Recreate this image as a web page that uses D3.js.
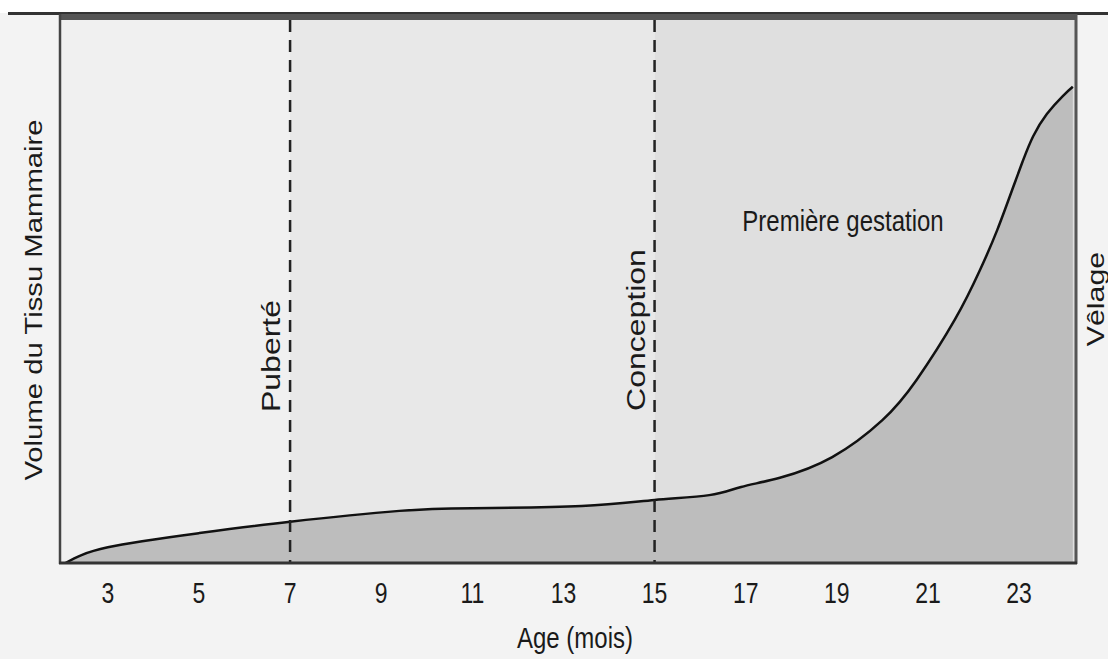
<!DOCTYPE html>
<html>
<head>
<meta charset="utf-8">
<script src="https://cdn.jsdelivr.net/npm/d3@7"></script>
<style>
  body { margin: 0; background: #fff; }
  svg { display: block; }
  text { font-family: "Liberation Sans", Arial, Helvetica, sans-serif; fill: #1a1a1a; }
</style>
</head>
<body>
<svg></svg>
<script>
var width = 1108;
var height = 659;

// age in months and mammary tissue volume (relative units)
var months = [2.07, 3, 5, 7, 9.4, 11, 13.4, 15, 16.2, 16.9, 17.75, 18.9, 20, 20.75, 21.59, 22.14, 22.52, 22.87, 23.09, 23.31, 23.61, 23.96, 24.18];
var volume = [0, 2.9, 5.5, 7.6, 9.6, 10.1, 10.5, 11.6, 12.5, 14.0, 15.7, 19.5, 26.3, 33.7, 44.8, 53.9, 61.3, 69.2, 74.2, 78.6, 82.7, 86.0, 87.7];

var tickMonths = [3, 5, 7, 9, 11, 13, 15, 17, 19, 21, 23];
var eventMonths = [7, 15];
var eventLabels = ["Puberté", "Conception"];
var phaseStarts = [1.95, 7, 15];
var phaseEnds = [7, 15, 24.25];
var phaseColors = ["#f0f0f0", "#e8e8e8", "#dfdfdf"];

// the scanned figure is stretched vertically, so text is stretched the same way
var stretch = 1.26;

var svg = d3.select('svg')
    .attr('width', width)
    .attr('height', height);

var x = d3.scaleLinear().domain([1.95, 24.25]).range([60, 1076]);
var y = d3.scaleLinear().domain([0, 100]).range([563, 20]);

var data = months.map(function (m, i) { return { m: m, v: volume[i] }; });

// paper background
svg.append('rect').attr('x', 0).attr('y', 13).attr('width', width).attr('height', height - 13).attr('fill', '#f3f3f3');

// phase shading
svg.selectAll('rect.phase')
    .data(phaseStarts)
    .enter().append('rect')
    .attr('class', 'phase')
    .attr('x', function (d) { return x(d); })
    .attr('y', y(100))
    .attr('width', function (d, i) { return x(phaseEnds[i]) - x(d); })
    .attr('height', y(0) - y(100))
    .attr('fill', function (d, i) { return phaseColors[i]; });

var curve = d3.curveNatural;

var area = d3.area()
    .x(function (d) { return x(d.m); })
    .y0(y(0))
    .y1(function (d) { return y(d.v); })
    .curve(curve);

var line = d3.line()
    .x(function (d) { return x(d.m); })
    .y(function (d) { return y(d.v); })
    .curve(curve);

svg.append('path').datum(data).attr('d', area).attr('fill', '#bdbdbd');
svg.append('path').datum(data).attr('d', line)
    .attr('fill', 'none').attr('stroke', '#111').attr('stroke-width', 2.5);

// dashed event lines
svg.selectAll('line.event')
    .data(eventMonths)
    .enter().append('line')
    .attr('class', 'event')
    .attr('x1', function (d) { return x(d); })
    .attr('x2', function (d) { return x(d); })
    .attr('y1', y(100))
    .attr('y2', y(0))
    .attr('stroke', '#222')
    .attr('stroke-width', 2.5)
    .attr('stroke-dasharray', '12,8');

// frame
svg.append('line').attr('x1', 8).attr('x2', width).attr('y1', 13.5).attr('y2', 13.5)
    .attr('stroke', '#333').attr('stroke-width', 3);
svg.append('rect').attr('x', 60).attr('y', 14).attr('width', 1016).attr('height', 6).attr('fill', '#555');
svg.append('line').attr('x1', 60).attr('x2', 60).attr('y1', 14).attr('y2', 564)
    .attr('stroke', '#444').attr('stroke-width', 2.5);
svg.append('line').attr('x1', 1076).attr('x2', 1076).attr('y1', 14).attr('y2', 564)
    .attr('stroke', '#555').attr('stroke-width', 3);
svg.append('line').attr('x1', 59).attr('x2', 1077).attr('y1', 563).attr('y2', 563)
    .attr('stroke', '#333').attr('stroke-width', 3);

// x tick labels
svg.selectAll('text.tick')
    .data(tickMonths)
    .enter().append('text')
    .attr('class', 'tick')
    .attr('transform', function (d) { return 'translate(' + x(d) + ',603) scale(1,' + stretch + ')'; })
    .attr('text-anchor', 'middle')
    .attr('font-size', 23)
    .text(function (d) { return d; });

svg.append('text')
    .attr('transform', 'translate(575,648) scale(1,' + stretch + ')')
    .attr('text-anchor', 'middle')
    .attr('font-size', 24)
    .text('Age (mois)');

svg.append('text')
    .attr('transform', 'translate(843,231) scale(1,' + stretch + ')')
    .attr('text-anchor', 'middle')
    .attr('font-size', 24)
    .text('Première gestation');

// y title
svg.append('text')
    .attr('transform', 'translate(42,300) rotate(-90) scale(1.22,1)')
    .attr('text-anchor', 'middle')
    .attr('font-size', 24)
    .text('Volume du Tissu Mammaire');

// event labels
svg.selectAll('text.event')
    .data(eventMonths)
    .enter().append('text')
    .attr('class', 'event')
    .attr('transform', function (d, i) {
        var cy = i === 0 ? 356 : 330;
        return 'translate(' + (x(d) - 10) + ',' + cy + ') rotate(-90) scale(1.28,1)';
    })
    .attr('text-anchor', 'middle')
    .attr('font-size', 25)
    .text(function (d, i) { return eventLabels[i]; });

svg.append('text')
    .attr('transform', 'translate(1104,299) rotate(-90) scale(1.32,1)')
    .attr('text-anchor', 'middle')
    .attr('font-size', 23)
    .text('Vêlage');
</script>
</body>
</html>
